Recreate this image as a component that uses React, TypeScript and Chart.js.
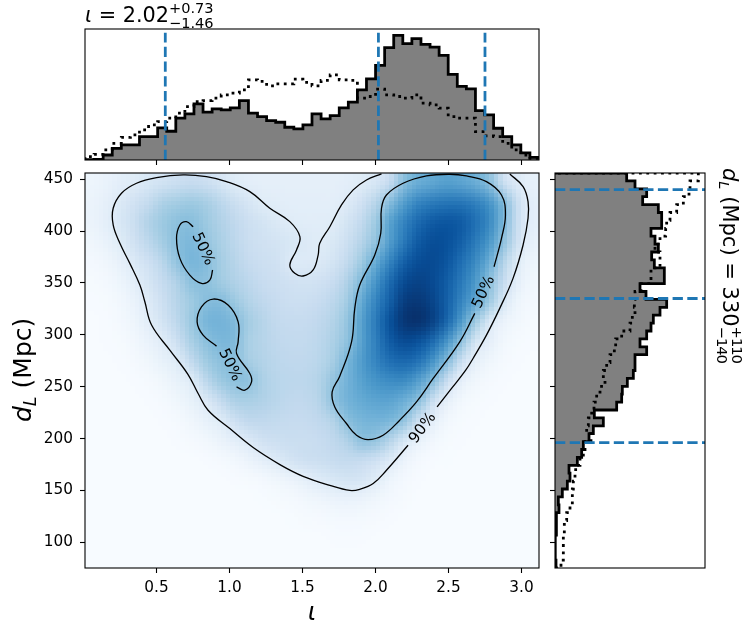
import React, { useEffect, useRef } from 'react';
import Chart from 'chart.js/auto';

const FONT = '"DejaVu Sans"';
const BLUE = '#1f77b4';

const iotaRange = [0.01, 3.12];
const distanceRange = [75.2, 456];
const iotaTicks = [0.5, 1.0, 1.5, 2.0, 2.5, 3.0];
const distanceTicks = [100, 150, 200, 250, 300, 350, 400, 450];

// posterior and prior sample counts per bin
const iotaPosterior = [1, 2, 15, 35, 45, 45, 70, 70, 96, 86, 125, 138, 168, 143, 153, 150, 156, 178, 140, 130, 118, 113, 98, 93, 105, 138, 123, 133, 156, 173, 210, 243, 283, 336, 373, 348, 363, 346, 338, 313, 256, 220, 213, 148, 135, 95, 70, 45, 21, 8];
const iotaPrior = [10, 17, 30, 50, 68, 75, 90, 105, 115, 125, 140, 160, 175, 178, 185, 195, 200, 210, 240, 235, 222, 228, 228, 242, 232, 222, 238, 255, 240, 238, 185, 190, 212, 195, 190, 185, 195, 170, 165, 155, 130, 125, 125, 85, 72, 70, 50, 30, 15, 5];
const iotaQuantiles = [0.56, 2.02, 2.75];
const iotaQuantileTop = 381;
const iotaCountMax = 392;

const distancePosterior = [3, 0, 0, 2, 5, 3, 5, 12, 10, 22, 37, 45, 42, 67, 80, 85, 102, 115, 145, 118, 185, 200, 202, 217, 235, 240, 240, 275, 255, 275, 288, 295, 315, 335, 273, 255, 328, 328, 298, 290, 310, 300, 288, 320, 320, 310, 263, 275, 240, 215];
const distancePrior = [18, 25, 25, 25, 28, 28, 35, 45, 52, 52, 55, 60, 62, 75, 85, 90, 108, 95, 100, 110, 117, 125, 135, 150, 145, 155, 165, 178, 182, 200, 225, 232, 240, 238, 240, 258, 288, 288, 315, 315, 300, 315, 332, 335, 345, 365, 385, 402, 405, 430];
const distanceQuantiles = [196, 335, 440];
const distanceCountMax = 450;

// joint density, 0-100 on the Blues map, top row first
const density: number[][] = [
  [5, 7, 10, 12, 16, 19, 22, 24, 22, 17, 12, 10, 9, 9, 9, 9, 9, 9, 10, 12, 16, 24, 43, 50, 53, 56, 54, 50, 42, 20, 13, 8],
  [6, 9, 14, 20, 26, 33, 36, 38, 35, 29, 23, 17, 12, 11, 10, 10, 10, 10, 13, 20, 30, 44, 58, 68, 72, 74, 74, 70, 62, 45, 22, 10],
  [6, 10, 16, 23, 32, 38, 42, 43, 38, 32, 27, 22, 18, 14, 12, 11, 11, 12, 18, 26, 38, 56, 68, 78, 84, 86, 84, 76, 66, 46, 22, 10],
  [4, 7, 12, 20, 28, 36, 43, 46, 40, 34, 28, 23, 20, 18, 16, 14, 12, 15, 22, 30, 41, 58, 72, 84, 89, 88, 82, 72, 60, 41, 20, 8],
  [2, 4, 8, 14, 21, 29, 41, 47, 44, 36, 30, 25, 22, 20, 13, 13, 14, 18, 26, 37, 52, 68, 82, 89, 90, 86, 76, 66, 50, 30, 12, 5],
  [1, 2, 5, 10, 17, 25, 32, 42, 42, 37, 32, 28, 24, 22, 20, 19, 20, 24, 32, 45, 62, 78, 90, 93, 90, 83, 72, 60, 42, 24, 9, 3],
  [0.5, 1, 3, 7, 13, 22, 30, 37, 43, 44, 38, 31, 27, 24, 22, 22, 24, 28, 36, 52, 68, 82, 95, 97, 92, 82, 68, 55, 38, 16, 5, 2],
  [0, 0.5, 2, 5, 11, 19, 28, 38, 47, 48, 45, 36, 30, 26, 25, 25, 27, 31, 40, 56, 72, 88, 98, 100, 94, 80, 60, 38, 14, 6, 3, 1],
  [0, 0.5, 1, 3, 7, 12, 22, 34, 42, 46, 45, 34, 30, 27, 26, 26, 28, 33, 41, 56, 70, 84, 90, 88, 78, 62, 42, 18, 9, 3, 1, 0.5],
  [0, 0, 0.5, 1.5, 4, 8, 12, 26, 37, 42, 43, 35, 31, 28, 27, 27, 29, 35, 47, 58, 68, 76, 79, 75, 62, 44, 22, 9, 4, 1.5, 0.5, 0],
  [0, 0, 0, 0.5, 1.5, 4, 8, 12, 28, 38, 42, 42, 33, 29, 28, 28, 31, 40, 48, 56, 62, 65, 66, 58, 44, 24, 9, 4, 1.5, 0.5, 0, 0],
  [0, 0, 0, 0, 0.5, 1.5, 4, 8, 14, 25, 33, 34, 32, 29, 27, 27, 30, 42, 48, 52, 55, 55, 50, 43, 22, 9, 3, 1, 0.5, 0, 0, 0],
  [0, 0, 0, 0, 0, 0.5, 1.5, 4, 8, 12, 21, 27, 27, 26, 25, 25, 27, 31, 43, 47, 48, 47, 41, 22, 10, 3, 1, 0.5, 0, 0, 0, 0],
  [0, 0, 0, 0, 0, 0, 0.5, 1.5, 3, 6, 10, 14, 20, 22, 23, 23, 24, 27, 32, 42, 40, 30, 16, 8, 3, 1, 0.5, 0, 0, 0, 0, 0],
  [0, 0, 0, 0, 0, 0, 0, 0, 0.5, 1.5, 3, 6, 10, 14, 19, 22, 23, 25, 26, 25, 21, 14, 6, 2, 0.7, 0.3, 0, 0, 0, 0, 0, 0],
  [0, 0, 0, 0, 0, 0, 0, 0, 0, 0, 0.5, 1, 2, 4, 6, 9, 13, 16, 18, 17, 12, 5, 2, 0.7, 0.2, 0, 0, 0, 0, 0, 0, 0],
  [0, 0, 0, 0, 0, 0, 0, 0, 0, 0, 0, 0, 0.3, 0.8, 1.5, 3, 4.5, 6, 7, 6, 4, 2, 0.8, 0.2, 0, 0, 0, 0, 0, 0, 0, 0],
  [0, 0, 0, 0, 0, 0, 0, 0, 0, 0, 0, 0, 0, 0, 0.3, 0.8, 1.2, 1.8, 2, 1.8, 1.2, 0.6, 0.2, 0, 0, 0, 0, 0, 0, 0, 0, 0],
  [0, 0, 0, 0, 0, 0, 0, 0, 0, 0, 0, 0, 0, 0, 0, 0, 0, 0.4, 0.5, 0.4, 0, 0, 0, 0, 0, 0, 0, 0, 0, 0, 0, 0],
  [0, 0, 0, 0, 0, 0, 0, 0, 0, 0, 0, 0, 0, 0, 0, 0, 0, 0, 0, 0, 0, 0, 0, 0, 0, 0, 0, 0, 0, 0, 0, 0],
];
const blues = [[247, 251, 255], [222, 235, 247], [198, 219, 239], [158, 202, 225], [107, 174, 214], [66, 146, 198], [33, 113, 181], [8, 81, 156], [8, 48, 107]];

// contour paths as [iota, distance]
const outerRight = [[2.92, 455.1], [3.011, 442.9], [3.045, 428.4], [3.045, 412.4], [3.011, 386.6], [2.942, 354.4], [2.851, 325.5], [2.76, 299.7], [2.668, 277.2], [2.618, 265.9], [2.521, 248.3], [2.422, 230.5]];
const outerMain = [[2.223, 193.5], [2.075, 169.4], [1.984, 156.6], [1.892, 151.1], [1.824, 150], [1.687, 154.9], [1.504, 163.6], [1.345, 174.9], [1.162, 191.3], [1.002, 209.6], [0.853, 227.3], [0.785, 243.4], [0.714, 262.1], [0.591, 285.2], [0.466, 309.4], [0.42, 331.9], [0.386, 348], [0.317, 368.9], [0.249, 388.2], [0.203, 405.9], [0.203, 422], [0.26, 436.5], [0.363, 446.1], [0.5, 451.5], [0.682, 454.2], [0.842, 452.5], [0.979, 447.7], [1.139, 438], [1.276, 422], [1.413, 409.1], [1.482, 394.6], [1.459, 381.8], [1.413, 367.3], [1.447, 359.3], [1.504, 356.7], [1.573, 362.5], [1.607, 376.9], [1.618, 388.2], [1.687, 404.2], [1.767, 425.2], [1.847, 439.7], [1.938, 449.3], [2.041, 455.1]];
const innerRight = [[2.812, 365.6], [2.863, 393], [2.89, 415.5], [2.863, 434.8], [2.76, 447.7], [2.623, 453.2], [2.509, 454.8], [2.349, 453.2], [2.189, 446.1], [2.075, 434.8], [2.041, 422], [2.036, 397.9], [1.995, 376.9], [1.892, 348], [1.858, 325.5], [1.836, 293.2], [1.755, 260.1], [1.703, 245], [1.721, 230.5], [1.801, 214.5], [1.87, 203.2], [1.949, 199], [2.052, 203.2], [2.166, 217.7], [2.281, 235.3], [2.395, 257.9], [2.577, 293.2], [2.68, 320.7]];
const innerUpperLeft = [[0.751, 404.2], [0.705, 409.1], [0.66, 405.9], [0.637, 393], [0.66, 373.7], [0.728, 357.6], [0.808, 349.6], [0.865, 352.8], [0.884, 362.5]];
const innerLowerLeft = [[0.911, 289.1], [0.819, 299.7], [0.778, 312.5], [0.808, 327], [0.888, 334.5], [0.99, 328.7], [1.059, 312.5], [1.059, 293.2], [1.048, 282], [1.139, 262.7], [1.151, 254.6], [1.105, 246.6], [1.048, 249.8]];
const contours = [outerRight, outerMain, innerRight, innerUpperLeft, innerLowerLeft];

const contourLabels = ['50%', '50%', '50%', '90%'];
const contourLabelIota = [0.817, 1.002, 2.742, 2.324];
const contourLabelDistance = [382.7, 270.8, 341.2, 210];
const contourLabelAngle = [65, 64, -65, -53];

const makeEdges = (lo: number, hi: number, n: number) =>
  Array.from({ length: n + 1 }, (_, i) => lo + ((hi - lo) * i) / n);

// closed outline of a histogram, same shape as histtype='step'
const stepOutline = (values: number[], edges: number[], horizontal = false) => {
  const pts: [number, number][] = [[edges[0], 0]];
  values.forEach((v, i) => {
    pts.push([edges[i], v], [edges[i + 1], v]);
  });
  pts.push([edges[values.length], 0]);
  return pts.map(([e, v]) => (horizontal ? { x: v, y: e } : { x: e, y: v }));
};

const toXY = (path: number[][]) => path.map(([x, y]) => ({ x, y }));

const blueAt = (v: number) => {
  const t = (Math.min(100, Math.max(0, v)) / 100) * (blues.length - 1);
  const i = Math.min(blues.length - 2, Math.floor(t));
  return blues[i].map((c, k) => Math.round(c + (blues[i + 1][k] - c) * (t - i)));
};

// draws the density through the x/y scales, blocky like the original 100x100 mesh
const heatmapPlugin = {
  id: 'heatmap',
  beforeDatasetsDraw(chart: any) {
    const { ctx, scales } = chart;
    const rows = density.length;
    const cols = density[0].length;
    const small = document.createElement('canvas');
    small.width = cols;
    small.height = rows;
    const sctx = small.getContext('2d')!;
    const img = sctx.createImageData(cols, rows);
    density.forEach((row, r) =>
      row.forEach((v, c) => {
        const [red, green, blue] = blueAt(v);
        img.data.set([red, green, blue, 255], (r * cols + c) * 4);
      }),
    );
    sctx.putImageData(img, 0, 0);

    const mesh = document.createElement('canvas');
    mesh.width = 100;
    mesh.height = 100;
    const mctx = mesh.getContext('2d')!;
    mctx.imageSmoothingEnabled = true;
    mctx.imageSmoothingQuality = 'high';
    mctx.drawImage(small, 0, 0, 100, 100);

    const left = scales.x.getPixelForValue(iotaRange[0]);
    const right = scales.x.getPixelForValue(iotaRange[1]);
    const top = scales.y.getPixelForValue(distanceRange[1]);
    const bottom = scales.y.getPixelForValue(distanceRange[0]);
    ctx.save();
    ctx.imageSmoothingEnabled = false;
    ctx.drawImage(mesh, left, top, right - left, bottom - top);
    ctx.restore();
  },
};

const framePlugin = {
  id: 'frame',
  afterDatasetsDraw(chart: any) {
    const { ctx, chartArea: a } = chart;
    ctx.save();
    ctx.strokeStyle = '#000';
    ctx.lineWidth = 1.1;
    ctx.strokeRect(a.left, a.top, a.right - a.left, a.bottom - a.top);
    ctx.restore();
  },
};

const contourLabelPlugin = {
  id: 'contourLabels',
  afterDatasetsDraw(chart: any) {
    const { ctx, scales } = chart;
    contourLabels.forEach((label, i) => {
      ctx.save();
      ctx.translate(scales.x.getPixelForValue(contourLabelIota[i]), scales.y.getPixelForValue(contourLabelDistance[i]));
      ctx.rotate((contourLabelAngle[i] * Math.PI) / 180);
      ctx.font = `15.3px ${FONT}`;
      ctx.fillStyle = '#000';
      ctx.textAlign = 'center';
      ctx.textBaseline = 'middle';
      ctx.fillText(label, 0, 0);
      ctx.restore();
    });
  },
};

type MathPart = { text?: string; italic?: boolean; drop?: boolean; sup?: string; sub?: string; tight?: boolean };

const drawMath = (ctx: CanvasRenderingContext2D, x: number, y: number, angle: number, size: number, parts: MathPart[]) => {
  const small = size * 0.7;
  ctx.save();
  ctx.translate(x, y);
  ctx.rotate((angle * Math.PI) / 180);
  ctx.fillStyle = '#000';
  ctx.textBaseline = 'alphabetic';
  ctx.textAlign = 'left';
  let pen = 0;
  parts.forEach((p) => {
    if (p.sup && p.sub) {
      ctx.font = `${small}px ${FONT}`;
      if (p.tight) (ctx as any).letterSpacing = '-1px';
      ctx.fillText(p.sup, pen, -size * 0.42);
      ctx.fillText(p.sub, pen, size * 0.28);
      pen += Math.max(ctx.measureText(p.sup).width, ctx.measureText(p.sub).width);
      return;
    }
    ctx.font = `${p.italic ? 'italic ' : ''}${p.drop ? small : size}px ${FONT}`;
    ctx.fillText(p.text || '', pen, p.drop ? size * 0.2 : 0);
    pen += ctx.measureText(p.text || '').width;
  });
  ctx.restore();
};

const annotationPlugin = {
  id: 'annotations',
  afterDraw(chart: any) {
    const { ctx } = chart;
    drawMath(ctx, 85, 22, 0, 20.8, [
      { text: 'ι', italic: true },
      { text: ' = 2.02' },
      { sup: '+0.73', sub: '−1.46' },
    ]);
    drawMath(ctx, 307.8, 620, 0, 25, [{ text: 'ι', italic: true }]);
    drawMath(ctx, 31, 422, -90, 25, [
      { text: 'd', italic: true },
      { text: 'L', italic: true, drop: true },
      { text: ' (Mpc)' },
    ]);
    drawMath(ctx, 723, 168, 90, 21, [
      { text: 'd', italic: true },
      { text: 'L', italic: true, drop: true },
      { text: ' (Mpc) = 330' },
      { sup: '+110', sub: '−140', tight: true },
    ]);
  },
};

const fixedAxis = (thickness: number, vertical: boolean, tickValues: number[]) => ({
  afterBuildTicks(s: any) {
    s.ticks = tickValues.map((value) => ({ value }));
  },
  afterFit(s: any) {
    if (vertical) s.width = thickness;
    else s.height = thickness;
    s.paddingLeft = s.paddingRight = s.paddingTop = s.paddingBottom = 0;
  },
});

const tickMarks = { drawOnChartArea: false, drawTicks: true, tickLength: 5, tickWidth: 1.1, tickColor: '#000' };

const baseOptions = {
  responsive: false,
  animation: false as const,
  plugins: { legend: { display: false }, tooltip: { enabled: false } },
};

const histDataset = (data: { x: number; y: number }[]) => ({
  data,
  showLine: true,
  pointRadius: 0,
  borderColor: '#000',
  borderWidth: 2.78,
  borderJoinStyle: 'miter' as const,
  backgroundColor: '#808080',
  fill: 'shape',
});

const priorDataset = (data: { x: number; y: number }[]) => ({
  data,
  showLine: true,
  pointRadius: 0,
  borderColor: '#000',
  borderWidth: 2.78,
  borderDash: [2.78, 4.58],
  borderJoinStyle: 'miter' as const,
  fill: false,
});

const quantileDataset = (data: { x: number; y: number }[]) => ({
  data,
  showLine: true,
  pointRadius: 0,
  borderColor: BLUE,
  borderWidth: 2.78,
  borderDash: [10.3, 4.4],
  fill: false,
});

const App: React.FC = () => {
  const mainRef = useRef<HTMLCanvasElement>(null);
  const topRef = useRef<HTMLCanvasElement>(null);
  const sideRef = useRef<HTMLCanvasElement>(null);

  useEffect(() => {
    if (!mainRef.current || !topRef.current || !sideRef.current) return;

    const iotaEdges = makeEdges(iotaRange[0], iotaRange[1], iotaPosterior.length);
    const distanceEdges = makeEdges(distanceRange[0], distanceRange[1], distancePosterior.length);

    const main = new Chart(mainRef.current, {
      type: 'scatter',
      data: {
        datasets: contours.map((path) => ({
          data: toXY(path),
          showLine: true,
          pointRadius: 0,
          borderColor: '#000',
          borderWidth: 1.3,
          tension: 0.4,
          fill: false,
        })),
      },
      options: {
        ...baseOptions,
        layout: { padding: { left: 40, right: 214, top: 173, bottom: 37 } },
        scales: {
          x: {
            type: 'linear',
            min: iotaRange[0],
            max: iotaRange[1],
            ...fixedAxis(30, false, iotaTicks),
            grid: tickMarks,
            border: { display: false },
            ticks: { color: '#000', padding: 6, maxRotation: 0, autoSkip: false, font: { family: 'DejaVu Sans', size: 15.3 }, callback: (v: any) => Number(v).toFixed(1) },
          },
          y: {
            type: 'linear',
            min: distanceRange[0],
            max: distanceRange[1],
            ...fixedAxis(45, true, distanceTicks),
            grid: tickMarks,
            border: { display: false },
            ticks: { color: '#000', padding: 7, autoSkip: false, font: { family: 'DejaVu Sans', size: 15.3 }, callback: (v: any) => String(v) },
          },
        },
      } as any,
      plugins: [heatmapPlugin, framePlugin, contourLabelPlugin, annotationPlugin],
    });

    const top = new Chart(topRef.current, {
      type: 'scatter',
      data: {
        datasets: [
          ...iotaQuantiles.map((q) => quantileDataset([{ x: q, y: 0 }, { x: q, y: iotaQuantileTop }])),
          priorDataset(stepOutline(iotaPrior, iotaEdges)),
          histDataset(stepOutline(iotaPosterior, iotaEdges)),
        ],
      } as any,
      options: {
        ...baseOptions,
        layout: { padding: { left: 85, right: 214, top: 29, bottom: 470 } },
        scales: {
          x: {
            type: 'linear',
            min: iotaRange[0],
            max: iotaRange[1],
            ...fixedAxis(5, false, iotaTicks),
            grid: tickMarks,
            border: { display: false },
            ticks: { display: false },
          },
          y: { type: 'linear', display: false, min: 0, max: iotaCountMax },
        },
      } as any,
      plugins: [framePlugin],
    });

    const side = new Chart(sideRef.current, {
      type: 'scatter',
      data: {
        datasets: [
          ...distanceQuantiles.map((q) => quantileDataset([{ x: 0, y: q }, { x: distanceCountMax, y: q }])),
          priorDataset(stepOutline(distancePrior, distanceEdges, true)),
          histDataset(stepOutline(distancePosterior, distanceEdges, true)),
        ],
      } as any,
      options: {
        ...baseOptions,
        layout: { padding: { left: 550, right: 48, top: 173, bottom: 67 } },
        scales: {
          x: { type: 'linear', display: false, min: 0, max: distanceCountMax },
          y: {
            type: 'linear',
            min: distanceRange[0],
            max: distanceRange[1],
            ...fixedAxis(5, true, distanceTicks),
            grid: tickMarks,
            border: { display: false },
            ticks: { display: false },
          },
        },
      } as any,
      plugins: [framePlugin],
    });

    return () => {
      main.destroy();
      top.destroy();
      side.destroy();
    };
  }, []);

  const layer: React.CSSProperties = { position: 'absolute', left: 0, top: 0 };

  return (
    <div style={{ position: 'absolute', left: 0, top: 0, width: 753, height: 635, overflow: 'hidden', background: '#fff' }}>
      <canvas ref={mainRef} width={753} height={635} style={layer}></canvas>
      <canvas ref={topRef} width={753} height={635} style={layer}></canvas>
      <canvas ref={sideRef} width={753} height={635} style={layer}></canvas>
    </div>
  );
};

export default App;
